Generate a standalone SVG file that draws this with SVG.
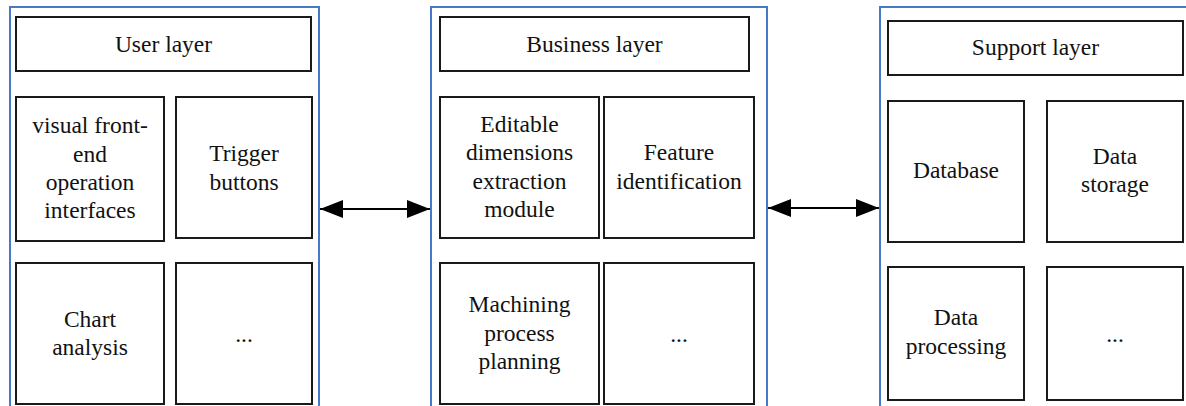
<svg xmlns="http://www.w3.org/2000/svg" width="1186" height="406" viewBox="0 0 1186 406">
<style>
.panel{fill:none;stroke:#4a78c8;stroke-width:2}
.box{fill:#fff;stroke:#1a1a1a;stroke-width:2}
.t{font-family:'Liberation Serif','Times New Roman','DejaVu Serif',serif;font-size:23.5px;fill:#111;text-anchor:middle}
.conn{stroke:#000;stroke-width:2;fill:none}
</style>
<defs>
<marker id="ah" markerUnits="userSpaceOnUse" markerWidth="24" markerHeight="20" refX="23" refY="9" orient="auto-start-reverse">
<path d="M0,0 L23,9 L0,18 Z" fill="#000"/>
</marker>
</defs>
<rect width="1186" height="406" fill="#fff"/>
<g id="user-panel"><rect class="panel" x="10" y="7" width="309" height="410"/></g>
<g id="business-panel"><rect class="panel" x="431" y="7" width="336" height="410"/></g>
<g id="support-panel"><rect class="panel" x="880" y="7" width="320" height="410"/></g>

<g class="t" font-family="Liberation Serif, DejaVu Serif, serif">
<g id="user-layer"><rect class="box" x="16" y="17" width="295" height="54"/><text x="163.5" y="52">User layer</text></g>
<g id="visual-frontend"><rect class="box" x="16" y="97" width="148" height="144"/>
<text x="90" y="133">visual front-</text><text x="90" y="162">end</text><text x="90" y="190">operation</text><text x="90" y="218">interfaces</text></g>
<g id="trigger-buttons"><rect class="box" x="176" y="97" width="136" height="141"/>
<text x="244" y="161">Trigger</text><text x="244" y="189.5">buttons</text></g>
<g id="chart-analysis"><rect class="box" x="16" y="263" width="148" height="141"/>
<text x="90" y="327">Chart</text><text x="90" y="355">analysis</text></g>
<g id="user-more"><rect class="box" x="176" y="263" width="136" height="141"/><text x="244" y="342">...</text></g>

<g id="business-layer"><rect class="box" x="440" y="17" width="309" height="54"/><text x="594.5" y="52">Business layer</text></g>
<g id="editable-dimensions"><rect class="box" x="440" y="97" width="159" height="141"/>
<text x="519.5" y="132">Editable</text><text x="519.5" y="160">dimensions</text><text x="519.5" y="188.5">extraction</text><text x="519.5" y="217">module</text></g>
<g id="feature-identification"><rect class="box" x="604" y="97" width="150" height="141"/>
<text x="679" y="160">Feature</text><text x="679" y="188.5">identification</text></g>
<g id="machining-planning"><rect class="box" x="440" y="263" width="159" height="141"/>
<text x="519.5" y="312">Machining</text><text x="519.5" y="340.5">process</text><text x="519.5" y="369">planning</text></g>
<g id="business-more"><rect class="box" x="604" y="263" width="150" height="141"/><text x="679" y="342">...</text></g>

<g id="support-layer"><rect class="box" x="888" y="21" width="295" height="54"/><text x="1035.5" y="55">Support layer</text></g>
<g id="database"><rect class="box" x="888" y="101" width="136" height="141"/><text x="956" y="178">Database</text></g>
<g id="data-storage"><rect class="box" x="1047" y="101" width="136" height="141"/>
<text x="1115" y="163.5">Data</text><text x="1115" y="192">storage</text></g>
<g id="data-processing"><rect class="box" x="888" y="267" width="136" height="133"/>
<text x="956" y="325">Data</text><text x="956" y="353.5">processing</text></g>
<g id="support-more"><rect class="box" x="1047" y="267" width="136" height="133"/><text x="1115" y="342">...</text></g>
</g>

<g id="connectors">
<line class="conn" x1="320" y1="209" x2="430" y2="209" marker-start="url(#ah)" marker-end="url(#ah)"/>
<line class="conn" x1="768" y1="208" x2="879" y2="208" marker-start="url(#ah)" marker-end="url(#ah)"/>
</g>
</svg>
